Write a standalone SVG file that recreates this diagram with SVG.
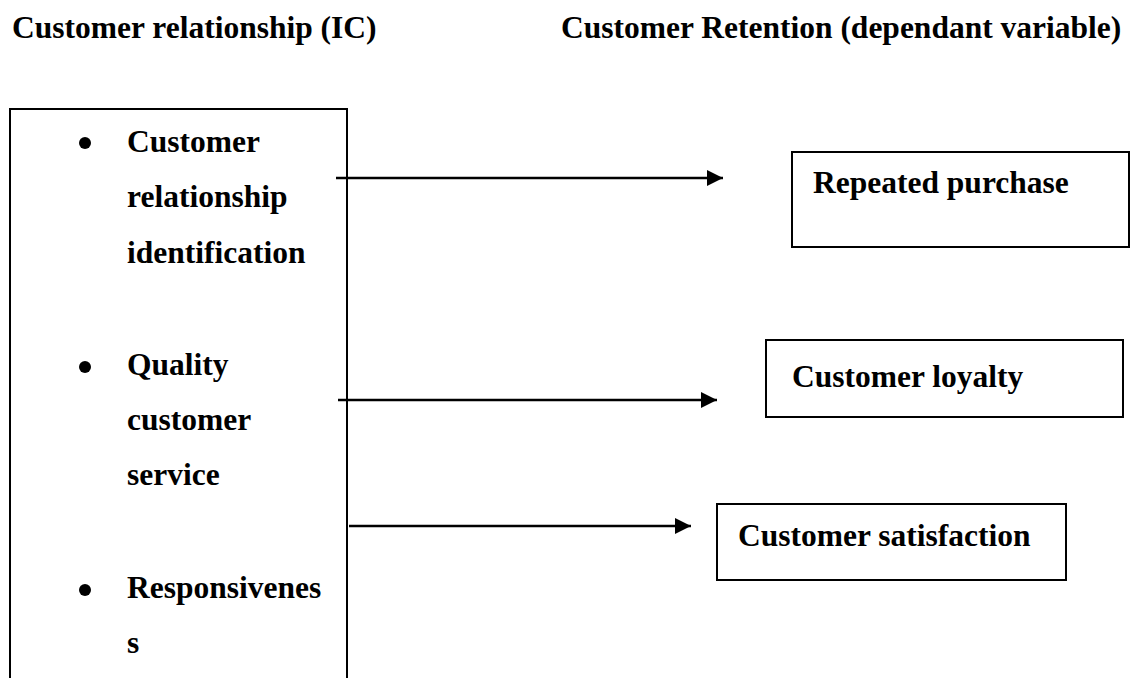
<svg xmlns="http://www.w3.org/2000/svg" width="1135" height="678" viewBox="0 0 1135 678">
<style>
text{font-family:"Liberation Serif","Times New Roman",serif;font-weight:bold;font-size:31.5px;fill:#000}
.box{fill:#fff;stroke:#000;stroke-width:2}
.conn{stroke:#000;stroke-width:2.6;fill:none}
.bullet{fill:#000}
</style>
<defs>
<marker id="arrow" markerUnits="userSpaceOnUse" markerWidth="18" markerHeight="18" refX="16" refY="8" orient="auto">
<path d="M0,0 L16,8 L0,16 Z" fill="#000"/>
</marker>
</defs>
<rect width="1135" height="678" fill="#fff"/>
<g id="titles">
<text x="12" y="38">Customer relationship (IC)</text>
<text x="561" y="38">Customer Retention (dependant variable)</text>
</g>
<g id="ic-box">
<path class="box" d="M10,680 L10,109 L347,109 L347,680"/>
<circle class="bullet" cx="85" cy="143" r="6"/>
<text x="127" y="152">Customer</text>
<text x="127" y="207">relationship</text>
<text x="127" y="263">identification</text>
<circle class="bullet" cx="85" cy="367" r="6"/>
<text x="127" y="375">Quality</text>
<text x="127" y="430">customer</text>
<text x="127" y="485">service</text>
<circle class="bullet" cx="85" cy="590" r="6"/>
<text x="127" y="598">Responsivenes</text>
<text x="127" y="653">s</text>
</g>
<g id="repeated-purchase">
<rect class="box" x="792" y="152" width="337" height="95"/>
<text x="813" y="193">Repeated purchase</text>
</g>
<g id="customer-loyalty">
<rect class="box" x="766" y="340" width="357" height="77"/>
<text x="792" y="387">Customer loyalty</text>
</g>
<g id="customer-satisfaction">
<rect class="box" x="717" y="504" width="349" height="76"/>
<text x="738" y="546">Customer satisfaction</text>
</g>
<g id="connectors">
<line class="conn" x1="336" y1="178" x2="723" y2="178" marker-end="url(#arrow)"/>
<line class="conn" x1="338" y1="400" x2="717" y2="400" marker-end="url(#arrow)"/>
<line class="conn" x1="349" y1="526" x2="691" y2="526" marker-end="url(#arrow)"/>
</g>
</svg>
